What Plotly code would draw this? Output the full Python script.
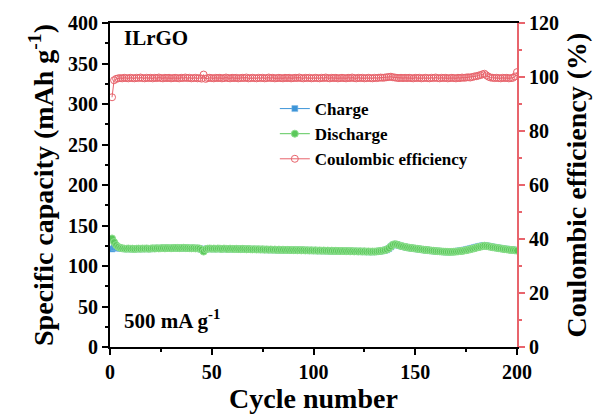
import plotly.graph_objects as go

cycles = list(range(1, 201))

discharge = [
    134.0, 129.5, 125.8, 123.6, 122.4, 121.8, 121.5, 121.3, 121.6, 121.2,
    121.4, 121.0, 121.3, 121.5, 121.2, 121.6, 121.4, 121.7, 121.3, 121.5,
    121.8, 121.6, 122.0, 121.7, 121.9, 122.1, 121.8, 122.2, 122.0, 121.9,
    122.3, 122.1, 122.4, 122.0, 122.2, 122.5, 122.1, 122.3, 122.0, 121.8,
    122.1, 121.7, 121.9, 121.5, 120.2, 117.8, 120.6, 121.4, 121.6, 121.3,
    121.5, 121.2, 121.6, 121.4, 121.1, 121.5, 121.3, 121.0, 121.4, 121.2,
    120.9, 121.3, 121.0, 120.8, 121.2, 120.9, 120.6, 121.0, 120.7, 120.5,
    120.8, 120.4, 120.7, 120.3, 120.6, 120.2, 120.5, 120.1, 120.4, 120.0,
    120.3, 119.9, 120.2, 119.8, 120.1, 119.7, 120.0, 119.6, 119.9, 119.5,
    119.8, 119.4, 119.7, 119.3, 119.6, 119.2, 119.5, 119.1, 119.4, 119.0,
    119.3, 118.9, 119.2, 118.8, 119.1, 118.7, 119.0, 118.6, 118.9, 118.5,
    118.8, 118.4, 118.7, 118.3, 118.6, 118.2, 118.5, 118.1, 118.4, 118.0,
    118.3, 117.9, 118.2, 117.8, 118.1, 117.7, 118.0, 117.6, 117.9, 117.7,
    118.0, 118.3, 118.6, 119.0, 119.5, 120.3, 121.8, 124.0, 126.2, 127.0,
    126.5, 125.6, 124.8, 124.2, 123.6, 123.0, 122.6, 122.3, 121.9, 121.6,
    121.2, 120.9, 120.5, 120.2, 119.9, 119.6, 119.3, 119.0, 118.8, 118.5,
    118.3, 118.1, 117.9, 117.7, 117.6, 117.5, 117.4, 117.5, 117.6, 117.8,
    118.0, 118.3, 118.6, 119.0, 119.5, 120.0, 120.6, 121.2, 121.9, 122.6,
    123.3, 123.8, 124.4, 125.0, 124.6, 124.2, 123.7, 123.2, 122.8, 122.4,
    122.0, 121.6, 121.2, 120.8, 120.5, 120.2, 119.9, 119.6, 119.3, 119.0,
]

charge = [
    121.0, 122.8, 122.5, 122.0, 121.9, 121.6, 121.4, 121.2, 121.5, 121.1,
    121.3, 121.0, 121.2, 121.4, 121.1, 121.5, 121.3, 121.6, 121.2, 121.4,
    121.7, 121.5, 121.9, 121.6, 121.8, 122.0, 121.7, 122.1, 121.9, 121.8,
    122.2, 122.0, 122.3, 121.9, 122.1, 122.4, 122.0, 122.2, 121.9, 121.7,
    122.0, 121.6, 121.8, 121.4, 120.6, 119.2, 120.8, 121.3, 121.5, 121.2,
    121.4, 121.1, 121.5, 121.3, 121.0, 121.4, 121.2, 120.9, 121.3, 121.1,
    120.8, 121.2, 120.9, 120.7, 121.1, 120.8, 120.5, 120.9, 120.6, 120.4,
    120.7, 120.3, 120.6, 120.2, 120.5, 120.1, 120.4, 120.0, 120.3, 119.9,
    120.2, 119.8, 120.1, 119.7, 120.0, 119.6, 119.9, 119.5, 119.8, 119.4,
    119.7, 119.3, 119.6, 119.2, 119.5, 119.1, 119.4, 119.0, 119.3, 118.9,
    119.2, 118.8, 119.1, 118.7, 119.0, 118.6, 118.9, 118.5, 118.8, 118.4,
    118.7, 118.3, 118.6, 118.2, 118.5, 118.1, 118.4, 118.0, 118.3, 117.9,
    118.2, 117.8, 118.1, 117.7, 118.0, 117.6, 117.9, 117.5, 117.8, 117.6,
    117.9, 118.2, 118.5, 118.9, 119.4, 120.1, 121.5, 123.6, 125.8, 126.7,
    126.3, 125.5, 124.7, 124.1, 123.5, 122.9, 122.5, 122.2, 121.8, 121.5,
    121.1, 120.8, 120.4, 120.1, 119.8, 119.5, 119.2, 118.9, 118.7, 118.4,
    118.2, 118.0, 117.8, 117.6, 117.5, 117.4, 117.4, 117.6, 117.8, 118.1,
    118.4, 118.8, 119.2, 119.7, 120.2, 120.8, 121.4, 122.0, 122.7, 123.4,
    124.0, 124.5, 125.0, 125.4, 125.0, 124.5, 124.0, 123.5, 123.0, 122.6,
    122.2, 121.8, 121.4, 121.0, 120.7, 120.4, 120.1, 119.8, 119.5, 119.2,
]

coulombic = [
    92.5, 98.8, 99.3, 99.5, 99.6, 99.5, 99.7, 99.6, 99.5, 99.7,
    99.6, 99.5, 99.7, 99.6, 99.8, 99.6, 99.5, 99.7, 99.6, 99.7,
    99.5, 99.7, 99.6, 99.8, 99.6, 99.5, 99.7, 99.6, 99.7, 99.5,
    99.6, 99.7, 99.6, 99.5, 99.7, 99.6, 99.8, 99.6, 99.7, 99.5,
    99.6, 99.7, 99.5, 99.6, 99.4, 100.9, 99.3, 99.6, 99.7, 99.6,
    99.5, 99.7, 99.6, 99.7, 99.5, 99.6, 99.8, 99.6, 99.5, 99.7,
    99.6, 99.7, 99.5, 99.6, 99.7, 99.6, 99.8, 99.5, 99.6, 99.7,
    99.6, 99.5, 99.7, 99.6, 99.7, 99.5, 99.6, 99.8, 99.6, 99.7,
    99.5, 99.6, 99.7, 99.6, 99.5, 99.7, 99.6, 99.7, 99.5, 99.6,
    99.7, 99.6, 99.8, 99.6, 99.5, 99.7, 99.6, 99.7, 99.5, 99.6,
    99.7, 99.6, 99.5, 99.7, 99.6, 99.8, 99.6, 99.5, 99.7, 99.6,
    99.7, 99.5, 99.6, 99.7, 99.6, 99.5, 99.7, 99.6, 99.8, 99.6,
    99.5, 99.7, 99.6, 99.7, 99.5, 99.6, 99.7, 99.6, 99.5, 99.7,
    99.6, 99.7, 99.8, 99.7, 99.8, 99.9, 100.0, 100.1, 99.9, 99.8,
    99.7, 99.6, 99.7, 99.6, 99.7, 99.6, 99.7, 99.6, 99.5, 99.7,
    99.6, 99.7, 99.5, 99.6, 99.7, 99.6, 99.5, 99.7, 99.6, 99.8,
    99.6, 99.5, 99.7, 99.6, 99.7, 99.5, 99.6, 99.7, 99.6, 99.5,
    99.7, 99.6, 99.8, 99.7, 99.8, 99.9, 99.8, 100.0, 100.2, 100.3,
    100.5, 100.7, 101.0, 101.2, 100.6, 100.1, 99.8, 99.7, 99.6, 99.7,
    99.6, 99.5, 99.7, 99.6, 99.7, 99.5, 99.6, 99.7, 100.2, 101.8,
]

FONT = "Liberation Serif"
BLUE = "#3d95d8"
GREEN = "#5cc85c"
RED = "#e8646c"

fig = go.Figure()

fig.add_trace(go.Scatter(
    x=cycles, y=coulombic, yaxis="y2", name="Coulombic efficiency",
    mode="lines+markers", legendrank=3,
    line=dict(color=RED, width=1),
    marker=dict(symbol="circle-open", size=7, color=RED, line=dict(width=1)),
))
fig.add_trace(go.Scatter(
    x=cycles, y=charge, name="Charge", mode="lines+markers", legendrank=1,
    line=dict(color=BLUE, width=1),
    marker=dict(symbol="square", size=6, color=BLUE, line=dict(width=0.5, color="#7fbbe8")),
))
fig.add_trace(go.Scatter(
    x=cycles, y=discharge, name="Discharge", mode="lines+markers", legendrank=2,
    line=dict(color=GREEN, width=1),
    marker=dict(symbol="circle", size=7, color=GREEN, line=dict(width=1, color="#8fe08f")),
))

tickfont = dict(family=FONT, size=20, color="black", weight="bold")

fig.update_layout(
    width=599, height=420,
    margin=dict(l=110, r=78, t=17, b=71),
    plot_bgcolor="white", paper_bgcolor="white",
    font=dict(family=FONT, color="black"),
    showlegend=True,
    legend=dict(
        x=0.405, y=0.79, xanchor="left", yanchor="top",
        font=dict(family=FONT, size=17, color="black", weight="bold"),
        bgcolor="rgba(0,0,0,0)", tracegroupgap=0,
        traceorder="normal",
    ),
    xaxis=dict(
        range=[0, 200], dtick=50, tick0=0,
        showline=True, linecolor="black", linewidth=2, mirror=True,
        ticks="outside", ticklen=6, tickwidth=2, tickcolor="black",
        minor=dict(ticks="outside", ticklen=3, tickwidth=2, dtick=25, tickcolor="black"),
        showgrid=False, zeroline=False,
        tickfont=tickfont,
        title=dict(text="Cycle number", font=dict(family=FONT, size=28, color="black", weight="bold"), standoff=5),
    ),
    yaxis=dict(
        range=[0, 400], dtick=50, tick0=0,
        showline=True, linecolor="black", linewidth=2,
        ticks="outside", ticklen=6, tickwidth=2, tickcolor="black",
        minor=dict(ticks="outside", ticklen=3, tickwidth=2, dtick=25, tickcolor="black"),
        showgrid=False, zeroline=False,
        tickfont=tickfont,
        title=dict(text="Specific capacity (mAh g<sup>-1</sup>)",
                   font=dict(family=FONT, size=28, color="black", weight="bold"), standoff=6),
    ),
    yaxis2=dict(
        range=[0, 120], dtick=20, tick0=0, overlaying="y", side="right",
        showline=True, linecolor=RED, linewidth=2,
        ticks="outside", ticklen=6, tickwidth=2, tickcolor=RED,
        minor=dict(ticks="outside", ticklen=3, tickwidth=2, dtick=10, tickcolor=RED),
        showgrid=False, zeroline=False,
        tickfont=tickfont,
        title=dict(text="Coulombic efficiency (%)",
                   font=dict(family=FONT, size=28, color="black", weight="bold"), standoff=8),
    ),
    annotations=[
        dict(text="ILrGO", x=0.03, y=0.955, xref="paper", yref="paper",
             xanchor="left", yanchor="middle", showarrow=False,
             font=dict(family=FONT, size=21, color="black", weight="bold")),
        dict(text="500 mA g<sup>-1</sup>", x=0.03, y=0.085, xref="paper", yref="paper",
             xanchor="left", yanchor="middle", showarrow=False,
             font=dict(family=FONT, size=21, color="black", weight="bold")),
    ],
)

fig.write_html("out.html")
